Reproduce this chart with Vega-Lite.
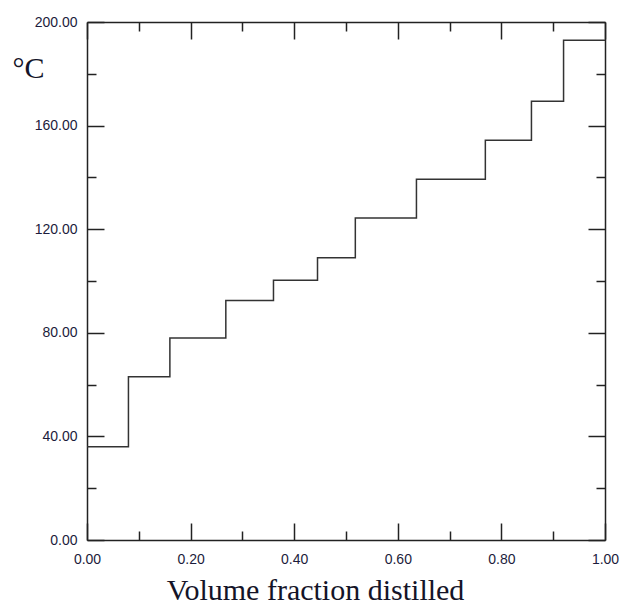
{
  "$schema": "https://vega.github.io/schema/vega-lite/v6.json",
  "width": 518,
  "height": 518,
  "autosize": {"type": "none"},
  "padding": {"left": 87, "top": 22, "right": 16, "bottom": 67},
  "background": "white",
  "config": {
    "view": {"stroke": null},
    "axis": {
      "grid": false,
      "domainColor": "#222222",
      "domainWidth": 1.5,
      "tickColor": "#222222",
      "tickWidth": 1.5,
      "labelFont": "Liberation Sans",
      "labelFontSize": 14,
      "labelColor": "#1c1c3c",
      "titleFont": "Liberation Serif",
      "titleFontWeight": "normal",
      "titleFontSize": 30,
      "titleColor": "#141428"
    }
  },
  "data": {
    "values": [
      {"fraction": 0.0, "temp": 36},
      {"fraction": 0.08, "temp": 63},
      {"fraction": 0.16, "temp": 78},
      {"fraction": 0.268, "temp": 92.5},
      {"fraction": 0.36, "temp": 100.3},
      {"fraction": 0.445, "temp": 109},
      {"fraction": 0.518, "temp": 124.3},
      {"fraction": 0.636, "temp": 139.3},
      {"fraction": 0.769, "temp": 154.3},
      {"fraction": 0.858, "temp": 169.4},
      {"fraction": 0.92, "temp": 193},
      {"fraction": 1.0, "temp": 193}
    ]
  },
  "layer": [
    {
      "mark": {"type": "line", "interpolate": "step-after", "color": "#333333", "strokeWidth": 1.5},
      "encoding": {
        "x": {
          "field": "fraction", "type": "quantitative",
          "scale": {"domain": [0, 1], "nice": false, "zero": false},
          "axis": {
            "orient": "bottom",
            "title": "Volume fraction distilled",
            "values": [0, 0.1, 0.2, 0.3, 0.4, 0.5, 0.6, 0.7, 0.8, 0.9, 1.0],
            "tickSize": {"condition": {"test": "round(datum.value*10)%2==0", "value": -17}, "value": -9},
            "labelExpr": "round(datum.value*10)%2==0 ? format(datum.value, '.2f') : ''",
            "labelPadding": 29,
            "labelFlush": false,
            "labelOverlap": false,
            "titleX": 228,
            "titleY": 59,
            "titleAlign": "center",
            "titleBaseline": "alphabetic"
          }
        },
        "y": {
          "field": "temp", "type": "quantitative",
          "scale": {"domain": [0, 200], "nice": false},
          "axis": {
            "orient": "left",
            "title": "°C",
            "values": [0, 20, 40, 60, 80, 100, 120, 140, 160, 180, 200],
            "tickSize": {"condition": {"test": "datum.value%40==0", "value": -17}, "value": -9},
            "labelExpr": "datum.value%40==0 ? format(datum.value, '.2f') : ''",
            "labelPadding": 27,
            "labelFlush": false,
            "labelOverlap": false,
            "titleAngle": 0,
            "titleX": -59,
            "titleY": 55,
            "titleAlign": "center",
            "titleBaseline": "alphabetic"
          }
        }
      }
    },
    {
      "mark": {"type": "line", "interpolate": "step-after", "strokeOpacity": 0},
      "encoding": {
        "x": {
          "field": "fraction", "type": "quantitative",
          "axis": {
            "orient": "top",
            "title": null,
            "labels": false,
            "values": [0, 0.1, 0.2, 0.3, 0.4, 0.5, 0.6, 0.7, 0.8, 0.9, 1.0],
            "tickSize": {"condition": {"test": "round(datum.value*10)%2==0", "value": -17}, "value": -9}
          }
        },
        "y": {
          "field": "temp", "type": "quantitative",
          "axis": {
            "orient": "right",
            "title": null,
            "labels": false,
            "values": [0, 20, 40, 60, 80, 100, 120, 140, 160, 180, 200],
            "tickSize": {"condition": {"test": "datum.value%40==0", "value": -17}, "value": -9}
          }
        }
      }
    }
  ],
  "resolve": {"axis": {"x": "independent", "y": "independent"}}
}
